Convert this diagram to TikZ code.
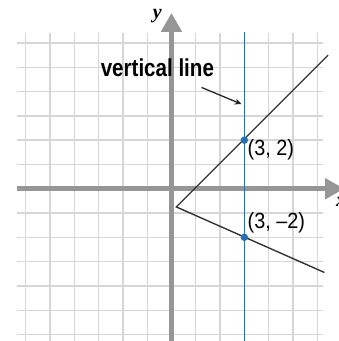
\documentclass[tikz,border=0pt]{standalone}
\usepackage{fontspec}
\newfontfamily\notefont[FakeStretch=0.84]{Liberation Sans}
\newfontfamily\pointfont[FakeStretch=0.9,Ligatures=TeX]{Liberation Sans}
\newfontfamily\varfont{Liberation Serif}
\usetikzlibrary{arrows.meta,positioning}
\definecolor{gridgray}{RGB}{214,214,214}
\definecolor{axisgray}{RGB}{150,150,150}
\definecolor{lineblue}{RGB}{38,112,180}
\tikzset{
    gridline/.style={gridgray,line width=1.3pt},
    axis/.style={axisgray,line width=5pt,-{Triangle[length=19pt,width=20pt]}},
    graphline/.style={black!80,line width=1.4pt},
    vline/.style={lineblue,line width=1.5pt},
    dot/.style={circle,fill=lineblue,minimum size=7.5pt,inner sep=0pt},
    ptlabel/.style={font=\pointfont\fontsize{22}{22}\selectfont,inner sep=0pt,anchor=west},
    notelabel/.style={font=\notefont\bfseries\fontsize{24.5}{24.5}\selectfont,inner sep=0pt,anchor=base},
    varlabel/.style={font=\varfont\bfseries\itshape\fontsize{20}{20}\selectfont,inner sep=0pt},
    pointer/.style={-{Stealth[length=7pt,width=6pt]},line width=1.3pt,black!85}
}
\begin{document}
\begin{tikzpicture}[x=24.3pt,y=24.3pt]
    \useasboundingbox (-7.06,-6.27) rectangle (6.89,7.77);
    \foreach \k in {-6,...,6} {
        \draw[gridline] (\k,-6.4) -- (\k,6.4);
        \draw[gridline] (-6.35,\k) -- (6.25,\k);
    }

    \draw[axis] (-6.35,0) -- (7.11,0);
    \draw[axis] (0,-6.4) -- (0,7.24);
    \node[varlabel] (ylab) at (-0.58,7.09) {y};
    \node[varlabel,anchor=west] (xlab) at (6.77,-0.55) {x};

    \coordinate (V) at (0.2,-0.75);
    \coordinate (upend) at (6.45,5.5);
    \coordinate (lowend) at (6.3,-3.45);
    \draw[graphline] (upend) -- (V) -- (lowend);

    \coordinate (vtop) at (3,6.46);
    \coordinate (vbot) at (3,-6.4);
    \draw[vline] (vtop) -- (vbot);

    \node[dot] (pA) at (3,2) {};
    \node[dot] (pB) at (3,-2) {};
    \node[ptlabel] (lA) at (3.13,1.62) {(3, 2)};
    \node[ptlabel] (lB) at (3.13,-1.41) {(3, –2)};

    \node[notelabel] (note) at (-0.58,4.61) {vertical line};
    \coordinate (ptail) at (1.24,4.17);
    \coordinate (phead) at (2.89,3.48);
    \draw[pointer] (ptail) -- (phead);
\end{tikzpicture}
\end{document}
